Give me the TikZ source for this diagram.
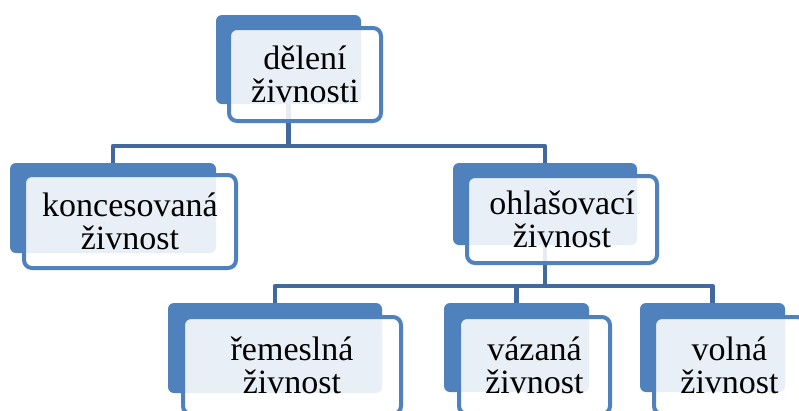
\documentclass[tikz,border=0pt]{standalone}
\usepackage{fontspec}
\setmainfont{Liberation Serif}
\usetikzlibrary{calc,positioning}
\definecolor{boxblue}{HTML}{4F81BD}
\definecolor{linkblue}{HTML}{41699E}
\tikzset{
  backbox/.style={
    rectangle,
    rounded corners=6pt,
    fill=boxblue,
    inner sep=0pt},
  frontbox/.style={
    rectangle,
    rounded corners=8pt,
    draw=boxblue, line width=4pt,
    fill=white, fill opacity=0.88, text opacity=1,
    inner sep=0pt,
    align=center,
    font=\fontsize{34}{33}\selectfont},
  link/.style={draw=linkblue, line width=4.5pt, line join=round},
}
\begin{document}
\begin{tikzpicture}[x=1pt,y=-1pt]
  \useasboundingbox (0,0) rectangle (799,410);
  % blue boxes behind
  \node[backbox, minimum width=145pt, minimum height=89pt] (deleni-back) at (288.5,59.5) {};
  \node[backbox, minimum width=206pt, minimum height=90pt] (konc-back) at (113,208) {};
  \node[backbox, minimum width=184pt, minimum height=82pt] (ohl-back) at (545,204) {};
  \node[backbox, minimum width=214pt, minimum height=90pt] (rem-back) at (275,348) {};
  \node[backbox, minimum width=145pt, minimum height=89pt] (vaz-back) at (516.5,347.5) {};
  \node[backbox, minimum width=145pt, minimum height=89pt] (vol-back) at (712.5,347.5) {};
  % connectors
  \coordinate (split-top) at (288.5,146);
  \coordinate (split-ohl) at (545,286);
  \draw[link] (deleni-back.south) -- (split-top);
  \draw[link] (split-top) -| (konc-back.north);
  \draw[link] (split-top) -| (ohl-back.north);
  \draw[link] (ohl-back.south) -- (split-ohl);
  \draw[link] (split-ohl) -| (rem-back.north);
  \draw[link] (split-ohl) -| (vaz-back.north);
  \draw[link] (split-ohl) -| (vol-back.north);
  % framed boxes with text
  \node[frontbox, minimum width=152pt, minimum height=93pt] (deleni) at (305,74.5) {dělení\\živnosti};
  \node[frontbox, minimum width=212pt, minimum height=93pt] (konc) at (130,221.5) {koncesovaná\\živnost};
  \node[frontbox, minimum width=190pt, minimum height=87pt] (ohl) at (562,219.5) {ohlašovací\\živnost};
  \node[frontbox, minimum width=218pt, minimum height=97pt] (rem) at (292,365.5) {řemeslná\\živnost};
  \node[frontbox, minimum width=151pt, minimum height=97pt] (vaz) at (534.5,365.5) {vázaná\\živnost};
  \node[frontbox, minimum width=151pt, minimum height=97pt] (vol) at (729.5,365.5) {volná\\živnost};
\end{tikzpicture}
\end{document}
